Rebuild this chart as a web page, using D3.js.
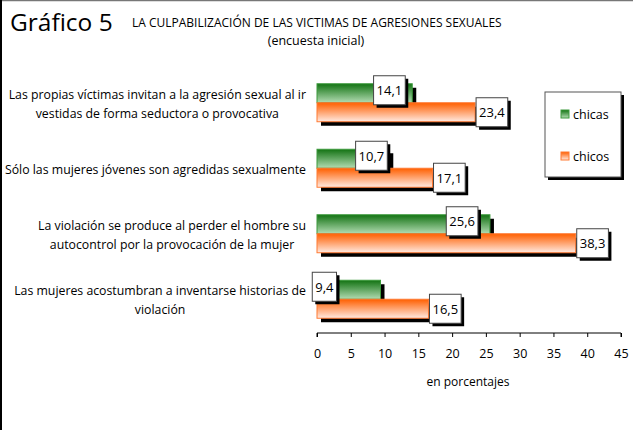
<!DOCTYPE html>
<html>
<head>
<meta charset="utf-8">
<script src="https://cdn.jsdelivr.net/npm/d3@7"></script>
<style>
  body { margin: 0; background: #fff; }
  svg text { font-family: "Open Sans", sans-serif; fill: #000; }
</style>
</head>
<body>
<script>
let categories = [
    "Las propias víctimas invitan a la agresión sexual al ir|vestidas de forma seductora o provocativa",
    "Sólo las mujeres jóvenes son agredidas sexualmente",
    "La violación se produce al perder el hombre su|autocontrol por la provocación de la mujer",
    "Las mujeres acostumbran a inventarse historias de|violación"
];
let chicas = [14.1, 10.7, 25.6, 9.4];
let chicos = [23.4, 17.1, 38.3, 16.5];
let seriesNames = ["chicas", "chicos"];
let xTicks = [0, 5, 10, 15, 20, 25, 30, 35, 40, 45];

let width = 634;
let height = 430;
// manual nudges of the green labels (px, box right edge relative to bar end)
let greenNudge = [-7, -2, -12, -44];

let svg = d3.select("body")
    .append("svg")
    .attr("width", width)
    .attr("height", height);

let defs = svg.append("defs");
let gGreen = defs.append("linearGradient").attr("id", "gGreen")
    .attr("x1", 0).attr("y1", 0).attr("x2", 0).attr("y2", 1);
gGreen.append("stop").attr("offset", "0%").attr("stop-color", "#137313");
gGreen.append("stop").attr("offset", "100%").attr("stop-color", "#b3dcb3");
let gOrange = defs.append("linearGradient").attr("id", "gOrange")
    .attr("x1", 0).attr("y1", 0).attr("x2", 0).attr("y2", 1);
gOrange.append("stop").attr("offset", "0%").attr("stop-color", "#ff5f00");
gOrange.append("stop").attr("offset", "100%").attr("stop-color", "#ffeae2");

let fills = ["url(#gGreen)", "url(#gOrange)"];
let strokes = ["#3c9a3c", "#ff7a33"];

// frame
svg.append("line").attr("x1", 0).attr("y1", 0.5).attr("x2", 633).attr("y2", 0.5)
    .attr("stroke", "#777").attr("stroke-width", 1.5);
svg.append("line").attr("x1", 1).attr("y1", 0).attr("x2", 1).attr("y2", height)
    .attr("stroke", "#000").attr("stroke-width", 2);

// titles
svg.append("text").attr("x", 10).attr("y", 31).text("Gráfico 5")
    .style("font-size", "24.5px");
svg.append("text").attr("x", 132).attr("y", 27).text("LA CULPABILIZACIÓN DE LAS VICTIMAS DE AGRESIONES SEXUALES")
    .style("font-size", "12px");
svg.append("text").attr("x", 316).attr("y", 45).attr("text-anchor", "middle")
    .text("(encuesta inicial)").style("font-size", "12.5px");

let xScale = d3.scaleLinear().domain([0, 45]).range([317, 621]);
let yScale = d3.scaleBand().domain(categories).range([70, 332])
    .paddingInner(0.42).paddingOuter(0.21);
let bh = yScale.bandwidth() / 2;

// axis
let xAxis = d3.axisBottom(xScale).tickValues(xTicks).tickSize(4).tickPadding(12)
    .tickFormat(d3.format("d"));
let axisG = svg.append("g").attr("transform", "translate(0,333)").call(xAxis);
axisG.select(".domain").attr("stroke", "#000").attr("d", "M317,4V0H621V4");
axisG.selectAll("text").style("font-size", "12.5px").attr("fill", "#000");
svg.append("text").attr("x", 468).attr("y", 386).attr("text-anchor", "middle")
    .text("en porcentajes").style("font-size", "12px");

// category labels
categories.forEach((c, i) => {
    let lines = c.split("|");
    let t = svg.append("text").style("font-size", "12.3px");
    let cy = yScale(c) + yScale.bandwidth() / 2 + 1;
    let lh = 19;
    lines.forEach((l, j) => {
        t.append("tspan").attr("y", cy + (j - (lines.length - 1) / 2) * lh)
            .attr("dominant-baseline", "central").text(l);
    });
    let tspans = t.selectAll("tspan").nodes();
    let maxW = d3.max(tspans, n => n.getComputedTextLength());
    let center = 306 - maxW / 2;
    t.selectAll("tspan").attr("x", center).attr("text-anchor", "middle");
});

// bars
let series = [chicas, chicos];
series.forEach((vals, s) => {
    let g = svg.append("g");
    g.selectAll("rect.shadow").data(vals).join("rect")
        .attr("x", xScale(0) + 4)
        .attr("y", (d, i) => yScale(categories[i]) + s * bh + 4)
        .attr("width", d => xScale(d) - xScale(0))
        .attr("height", bh)
        .attr("fill", "#000");
});
series.forEach((vals, s) => {
    let g = svg.append("g");
    g.selectAll("rect.bar").data(vals).join("rect")
        .attr("x", xScale(0))
        .attr("y", (d, i) => yScale(categories[i]) + s * bh)
        .attr("width", d => xScale(d) - xScale(0))
        .attr("height", bh)
        .attr("fill", fills[s])
        .attr("stroke", strokes[s])
        .attr("stroke-width", 1);
});

// data labels: box placed with its left (anchor "start") or right ("end") edge at x
function label(v, x, cy, anchor) {
    let txt = String(v).replace(".", ",");
    let g = svg.append("g");
    let t = g.append("text").attr("y", cy)
        .attr("text-anchor", "middle").attr("dominant-baseline", "central")
        .style("font-size", "13px").text(txt);
    let w = t.node().getComputedTextLength() + 6;
    let h = 29;
    let x0 = anchor === "end" ? x - w : x;
    t.attr("x", x0 + w / 2);
    g.insert("rect", "text").attr("x", x0 + 3).attr("y", cy - h / 2 + 3)
        .attr("width", w).attr("height", h).attr("fill", "#000");
    g.insert("rect", "text").attr("x", x0).attr("y", cy - h / 2)
        .attr("width", w).attr("height", h).attr("fill", "#fff")
        .attr("stroke", "#444").attr("stroke-width", 1);
}
chicas.forEach((v, i) => {
    let cy = yScale(categories[i]) + bh / 2 - 3;
    label(v, xScale(v) + greenNudge[i], cy, "end");
});
chicos.forEach((v, i) => {
    let cy = yScale(categories[i]) + bh * 1.5;
    label(v, xScale(v) + 1, cy, "start");
});

// legend
svg.append("rect").attr("x", 548).attr("y", 95).attr("width", 76).attr("height", 85).attr("fill", "#000");
svg.append("rect").attr("x", 545).attr("y", 92).attr("width", 76).attr("height", 85)
    .attr("fill", "#fff").attr("stroke", "#555").attr("stroke-width", 1);
seriesNames.forEach((n, i) => {
    let y = 114 + i * 42;
    svg.append("rect").attr("x", 561).attr("y", y - 4).attr("width", 8).attr("height", 8)
        .attr("fill", fills[i]).attr("stroke", strokes[i]);
    svg.append("text").attr("x", 573).attr("y", y).attr("dominant-baseline", "central")
        .style("font-size", "12.5px").text(n);
});
</script>
</body>
</html>
